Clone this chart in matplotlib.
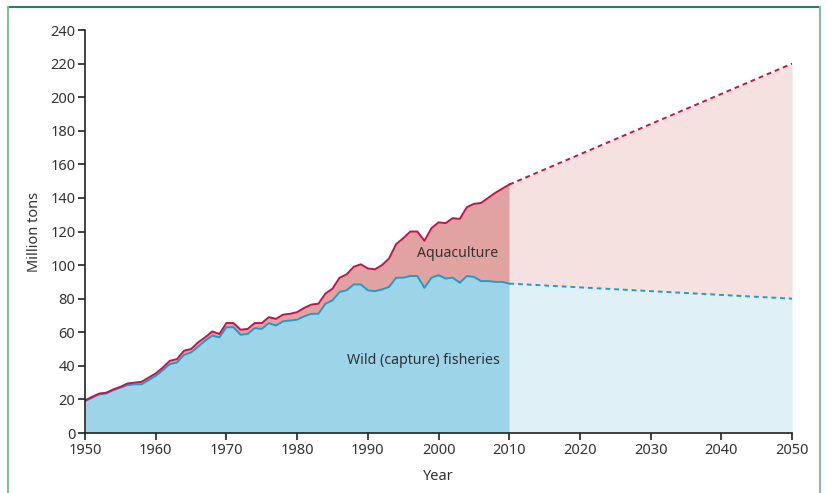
import matplotlib.pyplot as plt
import matplotlib.lines as mlines
import numpy as np

years = np.arange(1950, 2011)

# wild (capture) fisheries, million tons
wild = [19, 21, 23, 23.5, 25.5, 27, 28.5, 29, 29, 31.5,
        34, 37.5, 41, 42, 46.5, 48, 51.5, 55, 58, 57,
        63, 63, 58.5, 59, 62.5, 62, 65.5, 64, 66.5, 67,
        67.5, 69.5, 71, 71, 77, 79, 84, 85, 88.5, 88.5,
        85, 84.5, 85.5, 87, 92.5, 92.5, 93.5, 93.5, 86.5, 92.5,
        94, 92, 92.5, 89.5, 93.5, 93, 90.5, 90.5, 90, 90,
        89]

# total production (wild + aquaculture)
total = [19.5, 21.5, 23.5, 24, 26, 27.5, 29.5, 30, 30.5, 33,
         35.5, 39, 43, 44, 49, 50, 54, 57, 60.5, 59,
         65.5, 65.5, 61.5, 62, 65.5, 65.5, 69, 68, 70.5, 71,
         72, 74.5, 76.5, 77, 83, 86, 92.5, 94.5, 99, 100.5,
         98, 97.5, 100, 104, 112.5, 116, 120, 120, 114.5, 122,
         125.5, 125, 128, 127.5, 134.5, 136.5, 137, 140, 143, 145.5,
         148]

proj_years = [2010, 2050]
proj_wild = [89, 80]
proj_total = [148, 220]

blue_fill = '#9dd4e7'
blue_line = '#1a9fc9'
red_fill = '#e0a3a2'
red_line = '#c3134b'
blue_light = '#e0f0f7'
red_light = '#f5e1e0'

fig = plt.figure(figsize=(8.27, 4.93), dpi=100)
ax = fig.add_axes([0.1028, 0.1217, 0.855, 0.8173])

ax.fill_between(years, 0, wild, color=blue_fill, lw=0)
ax.fill_between(years, wild, total, color=red_fill, lw=0)
ax.fill_between(proj_years, 0, proj_wild, color=blue_light, lw=0)
ax.fill_between(proj_years, proj_wild, proj_total, color=red_light, lw=0)

ax.plot(years, wild, color=blue_line, lw=1.4)
ax.plot(years, total, color=red_line, lw=1.4)
ax.plot(proj_years, proj_wild, color=blue_line, lw=1.4, ls=(0, (2.5, 2)))
ax.plot(proj_years, proj_total, color=red_line, lw=1.4, ls=(0, (2.5, 2)))

ax.text(2002.7, 107, 'Aquaculture', ha='center', va='center',
        fontsize=10.2, color='#3a3030', family='Noto Sans')
ax.text(1997.8, 43, 'Wild (capture) fisheries', ha='center', va='center',
        fontsize=10.2, color='#303035', family='Noto Sans')

ax.set_xlim(1950, 2050)
ax.set_ylim(0, 240)
ax.set_xticks(range(1950, 2051, 10))
ax.set_yticks(range(0, 241, 20))
for s in ['top', 'right']:
    ax.spines[s].set_visible(False)
for s in ['left', 'bottom']:
    ax.spines[s].set_linewidth(1.2)
    ax.spines[s].set_color('#222222')
ax.tick_params(direction='out', length=5, width=1.2, color='#222222',
               labelsize=10.5, labelcolor='#333333', pad=2)
for lab in ax.get_xticklabels() + ax.get_yticklabels():
    lab.set_family('Noto Sans')
    lab.set_fontstretch('condensed')

ax.set_xlabel('Year', fontsize=10.5, color='#333333', family='Noto Sans',
              fontstretch='condensed', labelpad=8)
ax.set_ylabel('Million tons', fontsize=10.5, color='#333333', family='Noto Sans', labelpad=6)

# green frame around the panel
fig.add_artist(mlines.Line2D([8/827, 820/827], [1 - 7/493, 1 - 7/493],
                             color='#2e7d52', lw=1.5, transform=fig.transFigure))
fig.add_artist(mlines.Line2D([8/827, 8/827], [0, 1 - 7/493],
                             color='#7fbf9c', lw=1.5, transform=fig.transFigure))
fig.add_artist(mlines.Line2D([820/827, 820/827], [0, 1 - 7/493],
                             color='#7fbf9c', lw=1.5, transform=fig.transFigure))

fig.savefig('out.png', dpi=100)
